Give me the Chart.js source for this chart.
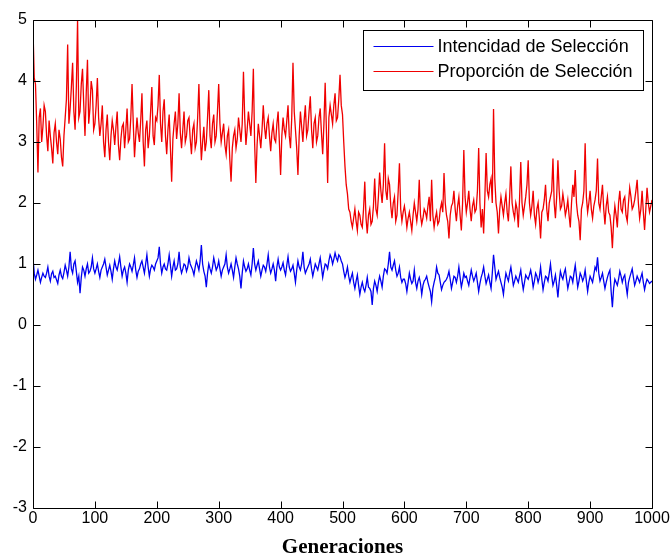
<!DOCTYPE html>
<html>
<head>
<meta charset="utf-8">
<script src="https://cdn.jsdelivr.net/npm/chart.js@4"></script>
<style>
  html, body { margin: 0; padding: 0; background: #fff; }
  canvas { display: block; }
</style>
</head>
<body>
<canvas id="seleccionChart" width="671" height="558"></canvas>
<script>
// Muestreo cada 2 generaciones (0..1000)
const PASO = 2;

const ticksX = [0, 100, 200, 300, 400, 500, 600, 700, 800, 900, 1000];
const ticksY = [-3, -2, -1, 0, 1, 2, 3, 4, 5];

const etiquetas = ['Intencidad de Selección', 'Proporción de Selección'];

const proporcion = [
    4.85, 4.05, 3.95, 3.3, 2.5, 3.4, 3.55, 3.0, 3.25, 3.6, 3.5, 3.1, 2.85, 3.35, 3.1, 2.9, 2.65, 3.15, 3.3, 3.0, 2.8, 3.2, 3.05, 2.75, 2.6,
    3.1, 3.4, 3.7, 4.6, 3.3, 3.55, 3.9, 4.3, 3.5, 3.2, 3.9, 5.0, 3.4, 3.5, 3.95, 4.2, 3.6, 3.1, 3.8, 4.35, 3.3, 3.55, 4.0, 3.85, 3.2,
    3.3, 3.6, 4.05, 3.4, 3.1, 3.3, 3.6, 3.0, 2.75, 3.2, 3.45, 3.0, 2.7, 3.1, 3.35, 3.2, 2.95, 3.25, 3.5, 2.95, 2.7, 3.05, 3.25, 3.3, 2.9,
    3.2, 3.55, 3.0, 3.05, 3.4, 3.95, 3.3, 2.75, 3.1, 3.4, 3.15, 3.0, 3.35, 3.8, 3.0, 2.6, 3.2, 3.35, 2.9, 3.1, 3.5, 3.9, 3.1, 2.95, 3.4,
    3.35, 3.6, 4.1, 3.3, 3.0, 3.5, 3.7, 3.1, 2.8, 3.2, 3.45, 2.9, 2.35, 3.05, 3.3, 3.5, 3.05, 3.3, 3.8, 3.15, 2.9, 3.2, 3.5, 3.0, 3.1,
    3.35, 3.4, 3.05, 2.8, 3.2, 3.3, 2.9, 3.0, 3.4, 3.95, 3.2, 2.7, 3.0, 3.25, 2.85, 3.0, 3.4, 3.85, 3.1, 2.9, 3.3, 3.45, 3.0, 3.1, 3.5,
    3.95, 3.3, 3.0, 3.15, 3.3, 2.95, 2.8, 3.1, 3.2, 2.7, 2.35, 2.9, 3.1, 3.2, 2.9, 3.05, 3.4, 3.2, 3.0, 3.3, 4.15, 3.4, 2.95, 3.2, 3.5,
    3.3, 3.1, 3.5, 4.2, 3.0, 2.33, 2.95, 3.3, 3.1, 2.9, 3.2, 3.6, 3.25, 3.05, 3.3, 3.4, 3.1, 2.85, 3.15, 3.3, 3.05, 3.0, 3.3, 3.5, 3.0,
    2.46, 3.1, 3.4, 3.2, 3.1, 3.35, 3.6, 3.1, 2.9, 3.4, 4.3, 3.5, 3.2, 2.9, 2.46, 3.1, 3.5, 3.25, 3.0, 3.35, 3.6, 3.1, 3.2, 3.5, 3.75,
    3.2, 2.9, 3.3, 3.4, 3.0, 3.1, 3.4, 3.55, 3.15, 2.8, 3.3, 3.97, 3.2, 2.33, 3.4, 3.6, 3.45, 3.3, 3.6, 3.8, 3.35, 3.4, 3.7, 4.1, 3.6,
    3.45, 3.0, 2.6, 2.3, 2.15, 1.9, 1.85, 1.7, 1.6, 1.75, 1.9, 1.7, 1.55, 1.85, 1.8, 1.65, 1.6, 1.9, 2.35, 1.75, 1.5, 1.8, 1.9, 1.65, 1.7,
    1.95, 2.4, 1.9, 1.8, 2.1, 2.5, 2.2, 2.0, 2.3, 2.98, 2.2, 2.05, 2.4, 2.3, 1.95, 1.75, 2.0, 2.1, 1.7, 1.8, 2.2, 2.65, 1.9, 1.7, 1.85,
    1.95, 1.8, 1.6, 1.75, 1.85, 1.7, 1.55, 1.8, 2.0, 1.85, 1.7, 1.9, 2.38, 1.8, 1.65, 1.75, 1.9, 1.85, 1.75, 1.95, 2.1, 1.7, 2.38, 1.8, 1.6,
    1.75, 1.85, 1.65, 1.7, 1.9, 2.0, 1.85, 2.49, 2.0, 1.8, 1.7, 1.42, 1.8, 1.95, 2.0, 2.2, 1.9, 1.7, 1.95, 2.1, 1.8, 1.55, 2.0, 2.87, 2.1,
    1.85, 2.0, 2.2, 1.9, 1.7, 1.95, 2.05, 1.85, 1.9, 2.2, 2.9, 2.0, 1.6, 1.9, 1.5, 2.1, 2.82, 2.2, 2.1, 2.3, 2.4, 2.0, 3.54, 2.4, 2.0,
    1.85, 1.5, 1.9, 2.1, 1.95, 1.8, 2.0, 2.15, 1.85, 1.7, 2.1, 2.6, 2.0, 1.85, 1.75, 2.0, 1.9, 1.6, 2.05, 2.67, 2.0, 1.8, 1.95, 2.1, 2.3,
    2.7, 2.0, 1.8, 1.95, 2.2, 1.8, 1.65, 1.9, 2.0, 1.75, 1.42, 1.85, 1.9, 2.05, 2.3, 1.9, 1.7, 2.0, 2.1, 2.2, 2.73, 2.0, 1.75, 2.1, 2.7,
    2.2, 1.9, 1.95, 2.15, 2.0, 1.8, 1.9, 2.05, 1.8, 1.6, 2.0, 2.3, 2.1, 2.54, 2.0, 1.8, 1.7, 1.39, 1.9, 2.0, 2.2, 2.98, 2.1, 1.85, 2.0,
    2.2, 1.9, 1.75, 1.95, 2.05, 2.2, 2.73, 2.0, 1.9, 2.1, 2.3, 1.9, 1.65, 1.95, 2.1, 1.85, 1.8, 1.6, 1.26, 1.7, 1.95, 1.8, 1.6, 2.0, 2.2,
    1.9, 1.85, 2.05, 2.1, 1.8, 1.7, 2.0, 2.25, 2.1, 1.9, 1.95, 2.05, 2.2, 2.38, 2.0, 1.75, 1.9, 2.2, 1.85, 1.56, 1.9, 2.25, 2.0, 1.85, 1.95,
    2.05
];

const intensidad = [
    1.1, 0.85, 0.75, 0.82, 0.9, 0.8, 0.7, 0.78, 0.85, 0.8, 0.78, 0.85, 0.95, 0.8, 0.72, 0.84, 0.88, 0.78, 0.8, 0.74, 0.68, 0.82, 0.9, 0.8, 0.76,
    0.86, 0.98, 0.9, 0.8, 0.95, 1.2, 0.92, 0.85, 1.0, 1.05, 0.88, 0.7, 0.8, 0.52, 0.78, 0.95, 0.9, 0.8, 0.92, 1.0, 0.85, 0.88, 0.95, 1.1, 0.92,
    0.85, 0.92, 1.0, 0.88, 0.78, 0.9, 0.95, 1.0, 1.08, 0.95, 0.82, 0.9, 0.98, 0.88, 0.75, 0.92, 1.05, 0.95, 0.9, 1.0, 1.12, 0.95, 0.8, 0.9, 0.95,
    0.85, 0.7, 0.9, 1.0, 0.95, 0.88, 0.98, 1.1, 0.9, 0.78, 0.88, 0.92, 1.0, 1.05, 0.95, 0.85, 1.0, 1.15, 0.95, 0.8, 0.92, 0.98, 0.95, 0.9, 1.0,
    1.05, 1.1, 1.28, 1.0, 0.85, 0.95, 1.0, 0.92, 0.9, 1.0, 1.15, 0.98, 0.8, 0.95, 1.05, 0.9, 0.92, 1.0, 1.2, 0.95, 0.85, 0.92, 1.0, 0.98, 0.88,
    0.95, 1.1, 1.0, 0.95, 0.9, 0.82, 0.95, 1.05, 0.98, 0.9, 1.05, 1.31, 1.0, 0.88, 0.8, 0.62, 0.85, 1.0, 0.92, 0.85, 0.95, 1.1, 1.0, 0.9, 0.95,
    1.05, 0.92, 0.8, 0.9, 0.95, 1.0, 1.15, 0.95, 0.85, 0.92, 1.0, 0.9, 0.78, 0.95, 1.1, 1.0, 0.92, 0.8, 0.6, 0.85, 1.05, 0.95, 0.88, 0.92, 1.0,
    0.9, 0.82, 1.0, 1.26, 1.0, 0.9, 0.98, 1.05, 0.92, 0.8, 0.9, 0.98, 0.95, 0.88, 1.0, 1.15, 0.95, 0.85, 0.92, 1.0, 0.9, 0.72, 0.95, 1.08, 0.95,
    0.9, 0.95, 1.02, 0.9, 0.82, 0.98, 1.12, 0.95, 0.88, 0.92, 0.98, 0.85, 0.7, 0.9, 1.05, 0.95, 0.9, 1.0, 1.2, 0.95, 0.85, 0.9, 0.95, 1.0, 1.08,
    0.92, 0.8, 0.9, 1.0, 0.95, 0.9, 1.0, 1.1, 0.95, 0.78, 0.9, 1.0, 0.98, 0.92, 1.05, 1.15, 1.1, 1.0, 1.08, 1.18, 1.1, 1.05, 1.15, 1.12, 1.05,
    1.0, 0.88, 0.78, 0.85, 0.95, 0.8, 0.7, 0.78, 0.85, 0.7, 0.6, 0.72, 0.82, 0.65, 0.5, 0.62, 0.7, 0.6, 0.55, 0.65, 0.78, 0.62, 0.6, 0.55, 0.33,
    0.6, 0.72, 0.65, 0.55, 0.7, 0.8, 0.72, 0.62, 0.8, 0.92, 0.9, 0.85, 1.0, 1.2, 0.95, 0.9, 0.98, 1.05, 0.9, 0.8, 0.85, 0.95, 0.78, 0.7, 0.75,
    0.75, 0.68, 0.55, 0.7, 0.85, 0.75, 0.68, 0.72, 0.9, 0.7, 0.6, 0.72, 0.78, 0.68, 0.5, 0.65, 0.72, 0.75, 0.8, 0.7, 0.62, 0.55, 0.38, 0.6, 0.7,
    0.78, 0.95, 0.85, 0.82, 0.7, 0.58, 0.65, 0.7, 0.72, 0.75, 0.8, 0.88, 0.75, 0.6, 0.7, 0.8, 0.78, 0.7, 0.8, 0.95, 0.78, 0.62, 0.72, 0.85, 0.78,
    0.8, 0.72, 0.65, 0.78, 0.9, 0.8, 0.72, 0.78, 0.85, 0.7, 0.55, 0.68, 0.78, 0.85, 0.95, 0.8, 0.68, 0.75, 0.82, 0.7, 0.6, 0.85, 1.15, 0.95, 0.75,
    0.82, 0.88, 0.78, 0.7, 0.62, 0.5, 0.7, 0.85, 0.78, 0.72, 0.85, 0.95, 0.8, 0.65, 0.72, 0.8, 0.75, 0.7, 0.8, 0.9, 0.72, 0.58, 0.7, 0.82, 0.78,
    0.75, 0.82, 0.9, 0.78, 0.62, 0.72, 0.85, 0.8, 0.7, 0.78, 0.95, 0.75, 0.58, 0.7, 0.8, 0.78, 0.72, 0.85, 1.0, 0.8, 0.65, 0.72, 0.82, 0.65, 0.45,
    0.7, 0.88, 0.8, 0.75, 0.85, 0.92, 0.75, 0.6, 0.7, 0.8, 0.78, 0.7, 0.85, 0.98, 0.8, 0.62, 0.72, 0.85, 0.8, 0.72, 0.78, 0.9, 0.72, 0.55, 0.7,
    0.8, 0.75, 0.7, 0.82, 0.95, 0.9, 1.11, 0.85, 0.72, 0.78, 0.85, 0.72, 0.6, 0.7, 0.78, 0.85, 0.9, 0.55, 0.29, 0.6, 0.75, 0.7, 0.65, 0.75, 0.88,
    0.8, 0.7, 0.78, 0.82, 0.65, 0.5, 0.7, 0.78, 0.85, 0.92, 0.78, 0.65, 0.72, 0.8, 0.75, 0.7, 0.78, 0.85, 0.7, 0.58, 0.68, 0.75, 0.72, 0.68, 0.7,
    0.72
];

const generaciones = proporcion.map((_, i) => i * PASO);

function aPuntos(serie) {
    return serie.map((v, i) => ({ x: generaciones[i], y: v }));
}

// Ticks hacia dentro en los cuatro lados + marco del eje (estilo MATLAB)
const marcoPlugin = {
    id: 'marco',
    afterDatasetsDraw(chart) {
        const { ctx, chartArea: a } = chart;
        const sx = chart.scales.x, sy = chart.scales.y;
        const largo = 7;
        const l = Math.round(a.left) + 0.5, r = Math.round(a.right) + 0.5;
        const t = Math.round(a.top) + 0.5, b = Math.round(a.bottom) + 0.5;
        ctx.save();
        ctx.strokeStyle = '#000';
        ctx.lineWidth = 1;
        ctx.beginPath();
        for (const v of ticksX) {
            const px = Math.round(sx.getPixelForValue(v)) + 0.5;
            ctx.moveTo(px, b);
            ctx.lineTo(px, b - largo);
            ctx.moveTo(px, t);
            ctx.lineTo(px, t + largo);
        }
        for (const v of ticksY) {
            const py = Math.round(sy.getPixelForValue(v)) + 0.5;
            ctx.moveTo(l, py);
            ctx.lineTo(l + largo, py);
            ctx.moveTo(r, py);
            ctx.lineTo(r - largo, py);
        }
        ctx.rect(l, t, r - l, b - t);
        ctx.stroke();
        ctx.restore();
    }
};

// Leyenda con recuadro en la esquina superior derecha
const leyendaPlugin = {
    id: 'leyendaCaja',
    afterDraw(chart) {
        const { ctx, chartArea: a } = chart;
        const sets = chart.data.datasets;
        ctx.save();
        ctx.font = '18px "Liberation Sans", Arial, sans-serif';
        const anchoTexto = Math.max(...sets.map(d => ctx.measureText(d.label).width));
        const ancho = Math.round(10 + 60 + 4 + anchoTexto + 11);
        const alto = 60;
        const x0 = Math.round(a.right - 9 - ancho) + 0.5;
        const y0 = Math.round(a.top + 10) + 0.5;
        ctx.fillStyle = '#fff';
        ctx.fillRect(x0, y0, ancho, alto);
        ctx.strokeStyle = '#000';
        ctx.lineWidth = 1;
        ctx.strokeRect(x0, y0, ancho, alto);
        sets.forEach((d, i) => {
            const y = Math.round(y0 + 15 + i * 25) + 0.5;
            ctx.strokeStyle = d.borderColor;
            ctx.beginPath();
            ctx.moveTo(x0 + 10, y);
            ctx.lineTo(x0 + 70, y);
            ctx.stroke();
            ctx.fillStyle = '#000';
            ctx.textBaseline = 'middle';
            ctx.fillText(d.label, x0 + 74, y + 1);
        });
        ctx.restore();
    }
};

new Chart(document.getElementById('seleccionChart'), {
    type: 'line',
    data: {
        datasets: [
            {
                label: etiquetas[0],
                data: aPuntos(intensidad),
                borderColor: '#0000f0',
                borderWidth: 1.3,
                pointRadius: 0,
                tension: 0
            },
            {
                label: etiquetas[1],
                data: aPuntos(proporcion),
                borderColor: '#f00000',
                borderWidth: 1.3,
                pointRadius: 0,
                tension: 0
            }
        ]
    },
    options: {
        responsive: false,
        animation: false,
        devicePixelRatio: 1,
        layout: { padding: { top: 20, right: 19, left: 0, bottom: 0 } },
        plugins: {
            legend: { display: false },
            tooltip: { enabled: false }
        },
        scales: {
            x: {
                type: 'linear',
                min: 0,
                max: 1000,
                afterBuildTicks: s => { s.ticks = ticksX.map(v => ({ value: v })); },
                afterFit: s => { s.height = 50; },
                grid: { display: false, drawTicks: false },
                border: { display: false },
                ticks: {
                    padding: 1,
                    color: '#000',
                    maxRotation: 0,
                    autoSkip: false,
                    callback: v => String(v),
                    font: { family: '"Liberation Sans", Arial, sans-serif', size: 16 }
                },
                title: {
                    display: true,
                    text: 'Generaciones',
                    color: '#000',
                    padding: { top: 0, bottom: 0 },
                    font: { family: '"Liberation Serif", "Times New Roman", serif', size: 21, weight: 'bold', lineHeight: 1 }
                }
            },
            y: {
                min: -3,
                max: 5,
                afterBuildTicks: s => { s.ticks = ticksY.map(v => ({ value: v })); },
                afterFit: s => { s.width = 33; },
                grid: { display: false, drawTicks: false },
                border: { display: false },
                ticks: {
                    padding: 6,
                    color: '#000',
                    autoSkip: false,
                    callback: v => String(v),
                    font: { family: '"Liberation Sans", Arial, sans-serif', size: 16 }
                }
            }
        }
    },
    plugins: [marcoPlugin, leyendaPlugin]
});
</script>
</body>
</html>
